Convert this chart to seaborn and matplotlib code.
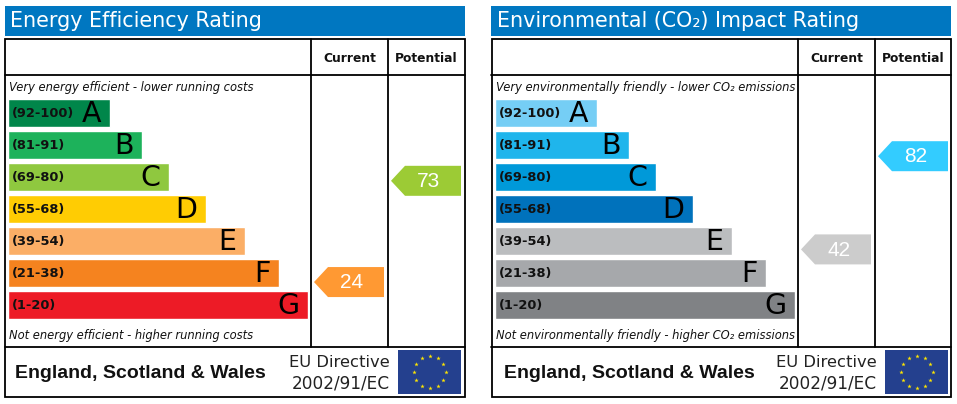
import numpy as np
import matplotlib
matplotlib.use('Agg')
import matplotlib.pyplot as plt
from matplotlib.patches import Polygon, Rectangle
import seaborn as sns

# Rating bands, top to bottom
bands = ['(92-100)', '(81-91)', '(69-80)', '(55-68)', '(39-54)', '(21-38)', '(1-20)']
letters = ['A', 'B', 'C', 'D', 'E', 'F', 'G']
band_low = [92, 81, 69, 55, 39, 21, 1]
band_high = [100, 91, 80, 68, 54, 38, 20]
bar_lengths = [102, 134, 161, 198, 237, 271, 300]

energy_colors = ['#00864a', '#1db25b', '#8fc83f', '#ffcc03', '#fbae66', '#f5831f', '#ed1b26']
impact_colors = ['#75cef5', '#1fb5ec', '#0099d9', '#0072bc', '#bbbdbf', '#a6a8ab', '#808285']

energy_current = 24
energy_potential = 73
impact_current = 42
impact_potential = 82

W, H = 957, 404
BLUE = '#0077c1'
ROW_FILL = 0.875
LINE = 1.3

sns.set_style('white')
plt.rcParams['font.family'] = ['DejaVu Sans']

fig = plt.figure(figsize=(W / 100, H / 100), dpi=100)
page = fig.add_axes([0, 0, 1, 1])
page.set_xlim(0, W)
page.set_ylim(H, 0)
page.axis('off')


def rating_to_row(rating):
    # Position of a rating on the row axis, inside its band
    for i, (lo, hi) in enumerate(zip(band_low, band_high)):
        if lo <= rating <= hi:
            return i - ROW_FILL / 2 + (hi - rating) / (hi - lo) * ROW_FILL
    return 0


def draw_arrow(ax, x0, rating, color):
    y = rating_to_row(rating)
    half = 15 / 32
    pts = [(x0, y), (x0 + 14, y - half), (x0 + 70, y - half), (x0 + 70, y + half), (x0 + 14, y + half)]
    ax.add_patch(Polygon(pts, closed=True, facecolor=color, edgecolor='none', clip_on=False))
    ax.text(x0 + 38, y + 0.02, str(rating), color='white', fontsize=15, ha='center', va='center',
            family='Liberation Sans', clip_on=False)


def draw_panel(dx, frame_dx, title, top_note, bottom_note, colors, current, potential):
    # Blue title strip
    page.add_patch(Rectangle((5 + frame_dx, 6), 460, 29.5, facecolor=BLUE, edgecolor='none'))
    page.text(10 + dx, 21, title, color='white', fontsize=14.9, va='center', ha='left')

    # Frame and table lines
    page.add_patch(Rectangle((5.2 + frame_dx, 39.2), 459.3, 357.8, facecolor='none', edgecolor='black', lw=LINE))
    page.plot([5 + frame_dx, 465 + frame_dx], [75, 75], color='black', lw=LINE)
    page.plot([5 + frame_dx, 465 + frame_dx], [347, 347], color='black', lw=LINE)
    page.plot([310.8 + dx, 310.8 + dx], [39, 347], color='black', lw=LINE)
    page.plot([387.8 + dx, 387.8 + dx], [39, 347], color='black', lw=LINE)

    page.text(349.5 + dx, 58.5, 'Current', fontsize=8.8, fontweight='bold', ha='center', va='center', color='#111111')
    page.text(426.5 + dx, 58.5, 'Potential', fontsize=8.8, fontweight='bold', ha='center', va='center', color='#111111')

    page.text(9 + dx, 87, top_note, fontsize=8.3, style='italic', va='center', color='#111111')
    page.text(9 + dx, 336, bottom_note, fontsize=8.3, style='italic', va='center', color='#111111')

    # Bars live in their own axes, x runs in pixels from the bar start
    ax = fig.add_axes([(8 + dx) / W, 1 - 321 / H, 457 / W, 224 / H])
    sns.barplot(x=bar_lengths, y=bands, hue=bands, palette=colors, saturation=1, width=ROW_FILL,
                legend=False, ax=ax)
    ax.set_xlim(0, 457)
    ax.set_ylim(6.5, -0.5)
    ax.axis('off')
    ax.patch.set_alpha(0)

    for i, band in enumerate(bands):
        ax.text(4, i, band, fontsize=9.4, fontweight='bold', va='center', color='#111111')
        ax.text(bar_lengths[i] - 8.5, i + 0.02, letters[i], fontsize=20.5, ha='right', va='center', color='black')

    draw_arrow(ax, 306, current, '#ff9933' if dx == 0 else '#cccccc')
    draw_arrow(ax, 383, potential, '#9ccb35' if dx == 0 else '#33ccff')

    # Footer
    page.text(15 + dx + (2 if dx else 0), 373.5, 'England, Scotland & Wales', fontsize=14, fontweight='bold',
              family='Liberation Sans', va='center', color='#111111')
    page.text(390 + dx, 362.5, 'EU Directive', fontsize=11.8, ha='right', va='center', color='#222222')
    page.text(390 + dx, 383, '2002/91/EC', fontsize=12.2, ha='right', va='center', color='#222222')

    # EU flag
    page.add_patch(Rectangle((398 + dx, 350), 63, 44, facecolor='#24408e', edgecolor='none'))
    angles = np.arange(12) * np.pi / 6
    page.scatter(429.5 + dx + 16 * np.sin(angles), 372 - 16 * np.cos(angles), marker='*', s=11,
                 color='#ffe600', linewidths=0)


draw_panel(0, 0, 'Energy Efficiency Rating',
           'Very energy efficient - lower running costs',
           'Not energy efficient - higher running costs',
           energy_colors, energy_current, energy_potential)
draw_panel(487, 486.3, 'Environmental (CO\u2082) Impact Rating',
           'Very environmentally friendly - lower CO\u2082 emissions',
           'Not environmentally friendly - higher CO\u2082 emissions',
           impact_colors, impact_current, impact_potential)

fig.savefig('out.png', dpi=100)
